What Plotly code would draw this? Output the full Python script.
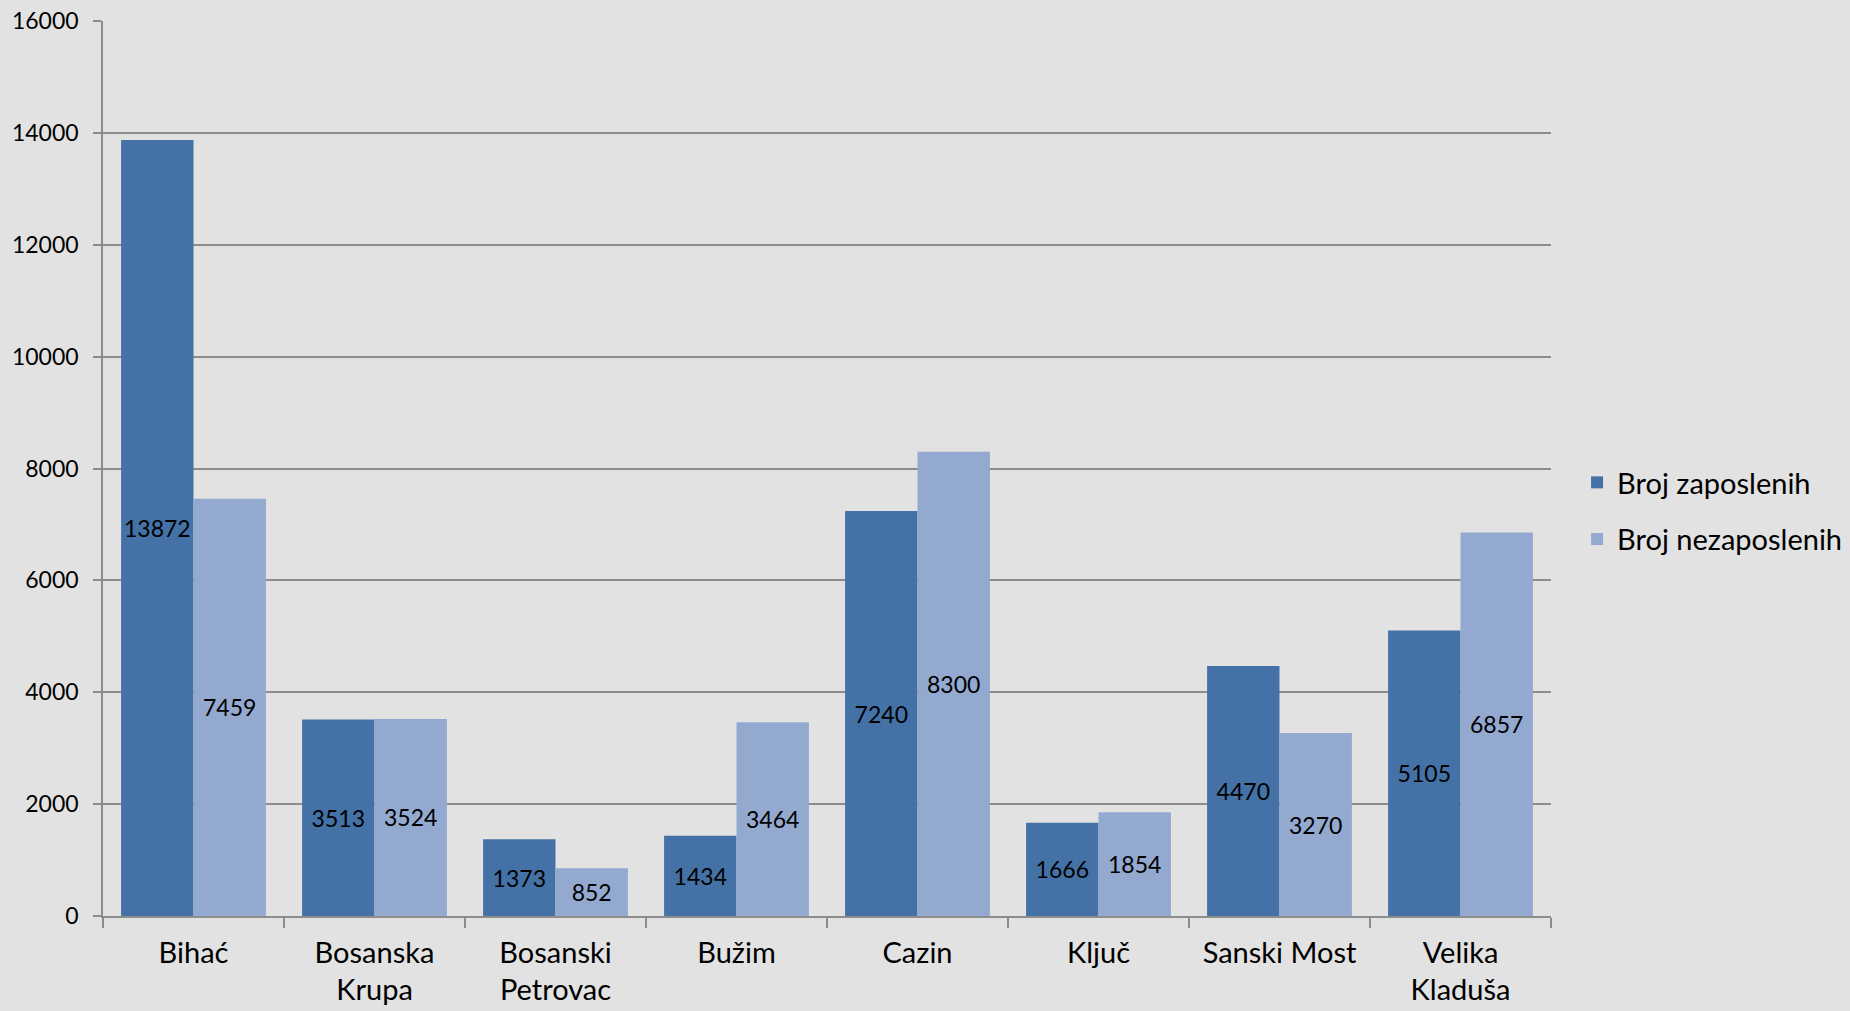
import plotly.graph_objects as go

categories = ["Bihać", "Bosanska<br>Krupa", "Bosanski<br>Petrovac", "Bužim", "Cazin",
              "Ključ", "Sanski Most", "Velika<br>Kladuša"]
zaposleni = [13872, 3513, 1373, 1434, 7240, 1666, 4470, 5105]
nezaposleni = [7459, 3524, 852, 3464, 8300, 1854, 3270, 6857]
y_ticks = [0, 2000, 4000, 6000, 8000, 10000, 12000, 14000, 16000]

FONT = "Lato"
fig = go.Figure()
fig.add_trace(go.Bar(
    x=categories, y=zaposleni, name="Broj zaposlenih",
    marker=dict(color="#4472A6", line=dict(width=0)),
    text=[str(v) for v in zaposleni], textposition="inside",
    insidetextanchor="middle", textangle=0,
    textfont=dict(family=FONT, size=23, color="#000000"),
    legendgroup="a",
))
fig.add_trace(go.Bar(
    x=categories, y=nezaposleni, name="Broj nezaposlenih",
    marker=dict(color="#93A9D0", line=dict(width=0)),
    text=[str(v) for v in nezaposleni], textposition="inside",
    insidetextanchor="middle", textangle=0,
    textfont=dict(family=FONT, size=23, color="#000000"),
    legendgroup="b",
))

fig.update_layout(
    width=1850, height=1011,
    paper_bgcolor="#E2E2E2", plot_bgcolor="#E2E2E2",
    margin=dict(l=103, r=299, t=21, b=95, autoexpand=False),
    barmode="group", bargap=0.2, bargroupgap=0,
    uniformtext=dict(minsize=23, mode="show"),
    font=dict(family=FONT, color="#000000"),
    legend=dict(
        x=1.018, y=0.4525, xanchor="left", yanchor="middle",
        font=dict(family=FONT, size=29, color="#000000"),
        bgcolor="rgba(0,0,0,0)", tracegroupgap=16,
        itemwidth=30,
    ),
    showlegend=True,
)
fig.update_yaxes(
    range=[0, 16000], tickvals=y_ticks, ticktext=[str(v) for v in y_ticks],
    showgrid=True, gridcolor="#8C8C8C", gridwidth=1.5,
    showline=True, linecolor="#8C8C8C", linewidth=1.5,
    ticks="outside", ticklen=8, tickcolor="#8C8C8C", tickwidth=1.5,
    tickfont=dict(family=FONT, size=23, color="#000000"),
    ticklabelstandoff=10, zeroline=False,
)
fig.update_xaxes(
    showline=True, linecolor="#8C8C8C", linewidth=1.5,
    ticks="outside", tickson="boundaries", ticklen=10, tickcolor="#8C8C8C", tickwidth=1.5,
    tickfont=dict(family=FONT, size=29, color="#000000"),
    ticklabelstandoff=10,
)

fig.write_html(
    "out.html",
    config={"displayModeBar": False},
    post_script="document.body.style.margin='0';document.body.style.overflow='hidden';"
                "document.documentElement.style.background='#E2E2E2';",
)
